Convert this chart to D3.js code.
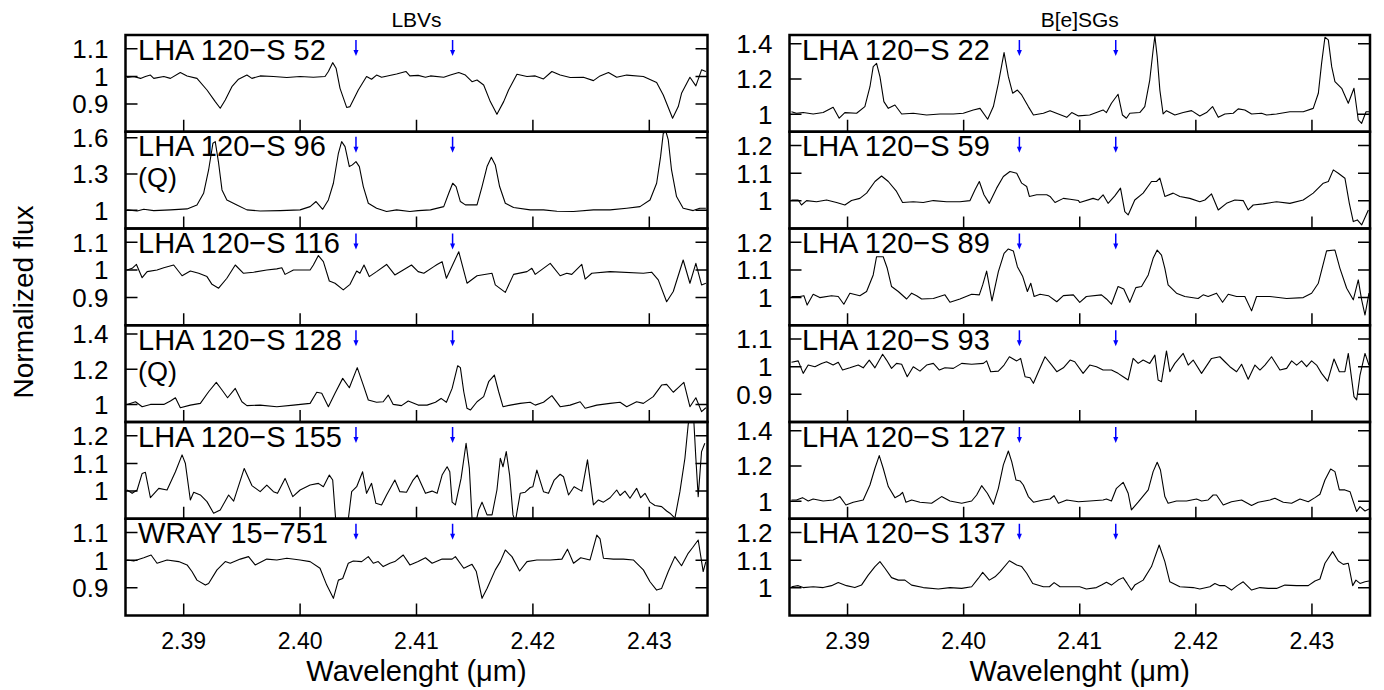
<!DOCTYPE html>
<html>
<head>
<meta charset="utf-8">
<script src="https://cdnjs.cloudflare.com/ajax/libs/d3/7.8.5/d3.min.js"></script>
<style>
body{margin:0;background:#fff}
text{font-family:"Liberation Sans",Arial,Helvetica,sans-serif;fill:#000}
</style>
</head>
<body>
<script>
// spectra, [wavelength (um), normalized flux]
var s52 = [[2.38514,0.996],[2.38571,1.0],[2.38629,0.993],[2.38671,1.0],[2.38714,1.005],[2.38743,0.993],[2.38829,1.0],[2.38886,0.993],[2.38971,1.014],[2.39029,1.002],[2.39114,0.993],[2.392,0.951],[2.39271,0.909],[2.39314,0.885],[2.39357,0.915],[2.39414,0.963],[2.39471,0.99],[2.39543,1.005],[2.39586,0.993],[2.39657,1.002],[2.39771,1.0],[2.39886,0.996],[2.4,1.0],[2.40114,0.997],[2.40214,1.0],[2.40243,1.018],[2.4028,1.05],[2.40309,1.03],[2.40343,0.957],[2.404,0.888],[2.40429,0.891],[2.405,0.951],[2.40571,1.0],[2.40614,0.99],[2.40657,1.005],[2.407,0.997],[2.40829,1.009],[2.40909,1.018],[2.40943,1.002],[2.41014,1.004],[2.41077,0.997],[2.4112,1.002],[2.41234,0.997],[2.41291,1.005],[2.41363,1.014],[2.4142,1.005],[2.41477,0.981],[2.4152,0.987],[2.41577,0.969],[2.41634,0.909],[2.41691,0.863],[2.41749,0.909],[2.41791,0.951],[2.41863,1.008],[2.41949,1.0],[2.4202,1.002],[2.42091,0.991],[2.42163,1.018],[2.42234,1.005],[2.4232,0.996],[2.42434,0.997],[2.4252,0.985],[2.42577,1.002],[2.42649,1.014],[2.4272,0.997],[2.42806,1.005],[2.42949,1.0],[2.43063,0.978],[2.4312,0.933],[2.432,0.849],[2.43249,0.891],[2.43277,0.939],[2.43349,0.997],[2.434,0.966],[2.43449,1.024],[2.43486,1.018]]

var s96 = [[2.38514,1.004],[2.386,0.995],[2.38657,1.009],[2.38743,0.998],[2.38886,1.004],[2.39029,1.012],[2.39114,1.045],[2.39171,1.141],[2.39214,1.334],[2.39251,1.555],[2.39271,1.568],[2.393,1.39],[2.39329,1.169],[2.39371,1.086],[2.39457,1.045],[2.39543,1.004],[2.39657,0.995],[2.39829,0.998],[2.4,1.004],[2.40086,1.031],[2.40137,1.073],[2.40194,1.009],[2.40243,1.086],[2.40286,1.224],[2.40329,1.472],[2.40357,1.568],[2.40386,1.527],[2.40423,1.362],[2.40449,1.376],[2.4048,1.403],[2.40509,1.362],[2.40543,1.197],[2.40586,1.059],[2.40657,1.018],[2.40743,0.99],[2.40829,1.004],[2.40943,0.99],[2.41014,0.998],[2.4112,1.004],[2.41234,1.031],[2.41277,1.141],[2.41311,1.224],[2.4134,1.197],[2.41377,1.073],[2.4142,1.045],[2.4152,1.045],[2.41563,1.197],[2.41606,1.362],[2.41643,1.439],[2.41677,1.376],[2.41714,1.197],[2.41763,1.059],[2.41834,1.023],[2.41977,1.004],[2.42091,1.004],[2.42206,0.993],[2.42349,0.99],[2.4252,1.004],[2.42663,1.004],[2.42806,1.018],[2.4292,1.031],[2.43006,1.086],[2.43063,1.224],[2.43097,1.444],[2.4312,1.637],[2.43143,1.65],[2.43163,1.582],[2.43191,1.334],[2.43234,1.114],[2.43291,1.018],[2.43377,0.998],[2.43434,1.018],[2.43486,1.018]]

var s116 = [[2.38514,1.0],[2.38557,1.006],[2.38594,1.02],[2.38643,0.972],[2.38686,0.994],[2.38771,1.0],[2.38829,1.008],[2.38914,1.018],[2.38986,0.979],[2.39057,0.996],[2.39129,0.988],[2.392,0.976],[2.39243,0.948],[2.393,0.934],[2.39371,0.97],[2.39443,1.018],[2.39514,0.988],[2.396,0.992],[2.39714,1.0],[2.398,1.004],[2.39843,1.008],[2.39871,0.984],[2.39943,1.0],[2.40086,1.0],[2.40114,1.018],[2.40157,1.052],[2.402,1.03],[2.40251,0.96],[2.403,0.952],[2.40371,0.928],[2.40429,0.948],[2.40486,0.996],[2.40514,0.988],[2.40549,1.018],[2.40594,0.976],[2.40657,0.994],[2.40743,1.02],[2.40814,0.982],[2.40886,1.0],[2.40957,1.018],[2.41014,0.994],[2.41063,0.988],[2.41149,1.012],[2.41177,1.02],[2.4122,1.03],[2.41257,0.97],[2.41363,1.066],[2.41434,0.952],[2.4152,0.979],[2.41649,0.988],[2.41677,0.946],[2.41763,0.919],[2.41834,0.984],[2.41949,0.994],[2.41991,1.006],[2.4202,0.984],[2.42149,1.024],[2.42234,0.979],[2.42291,0.988],[2.42334,0.984],[2.4242,1.02],[2.42449,0.967],[2.42506,0.988],[2.42663,0.994],[2.42949,0.988],[2.4302,0.992],[2.43077,0.964],[2.43149,0.885],[2.43206,0.922],[2.43291,1.036],[2.43349,0.952],[2.434,1.024],[2.43449,0.946],[2.43486,0.952]]

var s128 = [[2.38514,1.0],[2.38586,1.015],[2.38643,0.987],[2.38714,1.0],[2.38829,1.0],[2.38886,1.019],[2.38929,1.038],[2.38971,0.981],[2.39057,0.996],[2.39143,1.006],[2.39214,1.072],[2.3928,1.125],[2.39329,1.082],[2.39377,1.038],[2.39443,1.091],[2.395,1.015],[2.39543,0.993],[2.39657,0.996],[2.398,0.987],[2.39943,0.996],[2.40086,1.006],[2.40143,1.069],[2.40186,1.063],[2.40243,0.987],[2.403,1.063],[2.40366,1.148],[2.40423,1.095],[2.40491,1.209],[2.40543,1.11],[2.40586,1.025],[2.40657,1.012],[2.40714,1.015],[2.40757,1.053],[2.408,1.0],[2.40871,0.993],[2.40929,1.019],[2.41014,0.996],[2.41091,0.996],[2.41163,1.012],[2.41211,1.034],[2.41257,1.012],[2.41306,1.091],[2.41354,1.22],[2.41377,1.209],[2.41406,1.072],[2.41434,0.978],[2.41463,0.968],[2.4152,1.015],[2.41577,1.044],[2.4162,1.129],[2.41669,1.167],[2.41706,1.072],[2.41743,0.987],[2.41806,0.996],[2.41891,1.006],[2.41977,1.012],[2.4202,0.996],[2.42091,1.012],[2.42163,1.05],[2.42234,0.987],[2.4232,0.996],[2.42406,1.015],[2.42449,0.978],[2.42549,0.996],[2.42663,1.006],[2.42749,1.012],[2.42806,0.987],[2.42891,1.015],[2.42949,1.006],[2.43034,1.044],[2.43106,1.11],[2.43149,1.114],[2.43206,1.069],[2.43249,1.095],[2.43297,1.125],[2.43349,0.987],[2.434,1.038],[2.43449,0.959],[2.43486,0.981]]

var s155 = [[2.38514,1.004],[2.38557,0.992],[2.386,1.004],[2.38643,1.064],[2.38671,1.068],[2.38714,0.976],[2.38786,1.01],[2.38857,1.004],[2.38929,1.07],[2.38986,1.131],[2.39014,1.101],[2.39057,0.968],[2.39086,0.996],[2.39143,0.986],[2.392,0.962],[2.39257,0.92],[2.39314,0.932],[2.39386,0.986],[2.39429,0.964],[2.3952,1.082],[2.39586,1.02],[2.39657,0.998],[2.39714,1.022],[2.39771,0.998],[2.39806,0.992],[2.39871,1.046],[2.39937,0.98],[2.4,1.004],[2.40086,1.022],[2.40157,1.028],[2.402,1.016],[2.40251,1.058],[2.4028,1.04],[2.40314,0.85],[2.404,0.85],[2.40443,0.998],[2.40486,1.016],[2.40537,1.07],[2.40571,0.992],[2.40614,1.028],[2.40651,0.956],[2.407,0.95],[2.40743,0.986],[2.40814,1.04],[2.40857,0.998],[2.40914,0.996],[2.40971,1.04],[2.41006,1.058],[2.41077,0.992],[2.41134,1.0],[2.41177,0.992],[2.4122,1.058],[2.41263,1.088],[2.41286,1.07],[2.41306,0.96],[2.41334,0.95],[2.41383,1.046],[2.41426,1.173],[2.41454,1.082],[2.41477,0.902],[2.41506,0.88],[2.41534,0.932],[2.41563,0.96],[2.41606,0.914],[2.41649,0.914],[2.41691,1.004],[2.4172,1.119],[2.41743,1.088],[2.41771,1.143],[2.418,1.058],[2.41829,0.914],[2.41849,0.89],[2.41891,0.992],[2.41934,0.996],[2.41977,1.013],[2.42,1.016],[2.42034,1.076],[2.42091,0.998],[2.42134,0.992],[2.42183,1.04],[2.42234,1.061],[2.42263,1.052],[2.42306,0.986],[2.42354,1.016],[2.4242,1.0],[2.42469,1.113],[2.4252,0.95],[2.42563,0.968],[2.42606,0.96],[2.42663,0.976],[2.4272,1.004],[2.42749,0.984],[2.42791,1.0],[2.42834,0.974],[2.42891,1.01],[2.42926,0.976],[2.42963,0.992],[2.43006,0.96],[2.43049,0.948],[2.43106,0.944],[2.43149,0.928],[2.43177,0.92],[2.4322,0.902],[2.43263,0.998],[2.43306,1.119],[2.43334,1.24],[2.43349,1.28],[2.43383,1.25],[2.434,1.119],[2.4342,0.98],[2.43449,1.143],[2.43477,1.173]]

var w751 = [[2.38514,1.001],[2.38571,0.997],[2.38657,1.009],[2.3872,1.019],[2.38771,0.989],[2.38857,1.001],[2.38957,0.995],[2.39029,0.983],[2.39071,0.959],[2.39114,0.928],[2.39186,0.91],[2.39214,0.916],[2.39286,0.965],[2.39357,0.995],[2.394,0.989],[2.39486,1.004],[2.39557,1.013],[2.39614,0.983],[2.39714,1.004],[2.398,1.001],[2.39886,1.007],[2.4,1.001],[2.40086,0.995],[2.40171,0.971],[2.40229,0.91],[2.40286,0.862],[2.40329,0.928],[2.40366,0.934],[2.40414,0.989],[2.40457,0.997],[2.40529,0.995],[2.40586,1.013],[2.40629,0.989],[2.40671,0.995],[2.40714,0.977],[2.40771,0.989],[2.40814,0.995],[2.40886,1.019],[2.40943,0.983],[2.41014,0.995],[2.41077,1.009],[2.41134,0.989],[2.4122,1.004],[2.41306,1.004],[2.41334,1.013],[2.41406,0.971],[2.41477,0.985],[2.41514,0.959],[2.41563,0.862],[2.41606,0.898],[2.41677,0.965],[2.4172,0.995],[2.41763,1.037],[2.4182,1.013],[2.41886,0.961],[2.41949,0.995],[2.42034,1.001],[2.42149,1.001],[2.42249,1.004],[2.42297,1.04],[2.42349,0.989],[2.42411,1.009],[2.42491,1.001],[2.42549,1.091],[2.42577,1.077],[2.42606,1.007],[2.42691,1.004],[2.42777,1.004],[2.42863,1.001],[2.42949,0.965],[2.43006,0.922],[2.43063,0.892],[2.43106,0.898],[2.43163,0.959],[2.4322,1.013],[2.43277,0.98],[2.43334,1.025],[2.43371,1.045],[2.4342,1.073],[2.43463,0.959],[2.43486,0.995]]

var s22 = [[2.38517,1.014],[2.3856,1.005],[2.38618,1.009],[2.38704,1.001],[2.3879,1.009],[2.38876,1.039],[2.38928,0.977],[2.38977,1.009],[2.39078,1.005],[2.39149,1.043],[2.39193,1.156],[2.39221,1.27],[2.3925,1.289],[2.39279,1.213],[2.39313,1.071],[2.39351,1.033],[2.39408,1.052],[2.39466,1.001],[2.39566,1.005],[2.39681,0.995],[2.39796,1.001],[2.39911,1.001],[2.39997,1.005],[2.40083,1.024],[2.40141,1.033],[2.40207,0.971],[2.40256,1.043],[2.40299,1.175],[2.40348,1.35],[2.40385,1.213],[2.40422,1.119],[2.40463,1.137],[2.405,1.109],[2.40557,1.043],[2.40601,0.995],[2.40687,1.005],[2.40744,1.02],[2.40816,1.001],[2.40888,0.982],[2.40931,1.009],[2.40989,0.99],[2.41086,0.995],[2.41201,1.024],[2.4123,1.009],[2.41273,1.062],[2.4133,1.113],[2.41368,0.995],[2.41402,0.977],[2.41431,1.005],[2.41517,1.009],[2.4156,1.043],[2.41603,1.194],[2.41632,1.365],[2.41647,1.444],[2.41667,1.327],[2.4169,1.137],[2.41718,1.001],[2.41747,1.02],[2.41819,0.995],[2.41891,1.009],[2.41963,1.02],[2.42034,0.99],[2.42092,1.009],[2.42144,1.043],[2.42193,0.982],[2.4225,1.001],[2.42322,1.005],[2.42365,1.03],[2.42422,1.024],[2.4248,1.001],[2.42566,1.005],[2.42609,0.995],[2.42695,1.001],[2.4281,1.014],[2.42925,1.014],[2.43011,1.033],[2.43055,1.119],[2.43083,1.289],[2.43112,1.437],[2.43141,1.422],[2.4317,1.27],[2.43198,1.185],[2.43256,1.147],[2.43313,1.062],[2.43362,1.147],[2.43399,0.967],[2.43428,0.948],[2.43466,1.014],[2.43491,1.014]]

var s59 = [[2.38517,1.003],[2.38575,1.003],[2.38603,0.985],[2.38647,1.001],[2.38733,0.997],[2.38819,1.003],[2.38905,0.994],[2.38977,0.985],[2.39034,1.001],[2.39106,1.009],[2.39164,1.028],[2.39236,1.07],[2.39293,1.09],[2.39351,1.07],[2.39422,1.034],[2.39474,0.994],[2.39566,0.997],[2.39652,0.994],[2.39739,1.001],[2.39853,0.997],[2.39968,0.997],[2.40055,1.001],[2.40098,1.04],[2.40135,1.07],[2.40175,1.022],[2.40221,0.991],[2.40284,1.046],[2.40342,1.088],[2.40399,1.106],[2.40457,1.1],[2.405,1.064],[2.40543,1.052],[2.40566,1.016],[2.40629,1.022],[2.40716,1.022],[2.40744,1.016],[2.40787,0.994],[2.40859,1.009],[2.40917,1.006],[2.40989,1.001],[2.41,0.994],[2.41115,1.009],[2.41158,1.003],[2.41201,1.022],[2.41244,0.991],[2.41302,1.018],[2.41351,1.046],[2.41388,0.961],[2.41417,0.949],[2.41474,1.003],[2.41546,1.028],[2.41618,1.07],[2.41661,1.07],[2.4169,1.082],[2.41733,1.016],[2.41805,1.028],[2.41862,1.016],[2.41948,1.009],[2.42034,0.997],[2.42078,1.003],[2.42135,1.025],[2.42193,0.967],[2.42264,0.991],[2.42336,1.003],[2.42408,1.001],[2.42451,0.967],[2.42494,0.985],[2.4258,0.989],[2.42695,0.997],[2.4281,0.991],[2.42925,1.003],[2.43011,1.028],[2.43098,1.064],[2.43141,1.07],[2.43184,1.112],[2.43227,1.1],[2.43284,1.082],[2.43322,0.991],[2.43356,0.925],[2.43391,0.931],[2.43428,0.913],[2.43486,0.967]]

var s89 = [[2.38517,1.004],[2.38589,1.004],[2.38624,1.007],[2.38652,0.973],[2.38704,1.012],[2.38761,1.0],[2.38862,1.007],[2.3892,1.004],[2.38968,0.976],[2.3902,1.016],[2.39106,1.007],[2.39164,1.022],[2.39221,1.082],[2.3925,1.148],[2.39307,1.148],[2.39342,1.106],[2.39379,1.04],[2.39437,1.022],[2.39509,0.995],[2.39552,1.016],[2.39595,1.007],[2.39638,0.995],[2.39739,0.997],[2.39839,1.01],[2.39882,0.983],[2.39968,0.995],[2.40069,1.012],[2.40135,1.01],[2.40164,1.046],[2.40198,1.096],[2.40244,0.988],[2.40299,1.094],[2.40348,1.16],[2.40385,1.176],[2.40428,1.169],[2.40463,1.112],[2.40509,1.076],[2.40549,1.022],[2.40578,1.052],[2.40607,1.004],[2.40658,1.012],[2.4073,1.007],[2.40802,0.985],[2.40859,1.007],[2.40945,1.01],[2.41,0.983],[2.41057,1.004],[2.41187,1.01],[2.4123,0.995],[2.41273,0.976],[2.4133,1.04],[2.41379,1.031],[2.41431,0.983],[2.41483,1.036],[2.41532,1.04],[2.4159,1.082],[2.41632,1.142],[2.41667,1.172],[2.41704,1.154],[2.41733,1.106],[2.41761,1.046],[2.41833,1.016],[2.41905,1.004],[2.4202,0.997],[2.42063,1.01],[2.42106,1.004],[2.42178,1.016],[2.4223,0.983],[2.42279,1.012],[2.42351,1.004],[2.42422,1.004],[2.4248,0.952],[2.42523,1.004],[2.42638,1.004],[2.42782,0.997],[2.42925,1.0],[2.42997,1.016],[2.43055,1.052],[2.43126,1.169],[2.43198,1.172],[2.43241,1.106],[2.43299,1.034],[2.43356,0.992],[2.43399,1.064],[2.43428,0.992],[2.43457,0.937],[2.43491,1.016]]

var s93 = [[2.38517,1.016],[2.38575,1.021],[2.38618,0.976],[2.38661,1.006],[2.38719,1.0],[2.38776,1.012],[2.38819,1.018],[2.38876,1.006],[2.3892,1.016],[2.38957,0.988],[2.3902,0.996],[2.39092,1.006],[2.39135,0.996],[2.39187,1.024],[2.39236,0.996],[2.39302,1.045],[2.39336,1.024],[2.39379,0.994],[2.39422,1.012],[2.39466,1.009],[2.39514,0.964],[2.39566,1.0],[2.39624,0.984],[2.39681,1.006],[2.39739,1.012],[2.39791,0.988],[2.39839,0.996],[2.39911,0.994],[2.39983,1.012],[2.40069,1.009],[2.4017,1.012],[2.40198,1.021],[2.40233,0.982],[2.40299,0.984],[2.40348,1.006],[2.40394,1.036],[2.40457,1.021],[2.40491,1.03],[2.40529,0.964],[2.40572,0.96],[2.40601,0.94],[2.40644,0.982],[2.40701,1.036],[2.40759,1.006],[2.40802,0.982],[2.40859,0.996],[2.40917,1.024],[2.40957,1.018],[2.41029,0.976],[2.41086,1.006],[2.41144,1.0],[2.41201,0.988],[2.41273,0.988],[2.4133,0.976],[2.41374,0.964],[2.41417,0.952],[2.4146,1.03],[2.41503,1.012],[2.41546,1.024],[2.41603,1.012],[2.41647,1.042],[2.41675,0.952],[2.41704,0.946],[2.41747,1.057],[2.41776,0.982],[2.41819,1.012],[2.41891,1.048],[2.41934,1.006],[2.41977,1.024],[2.42049,0.976],[2.42135,1.03],[2.42207,1.036],[2.4225,1.018],[2.42293,1.0],[2.42351,0.982],[2.42394,1.009],[2.42451,0.955],[2.42509,1.006],[2.42552,0.988],[2.42595,1.006],[2.42652,1.036],[2.42724,0.988],[2.42782,0.994],[2.42825,1.021],[2.42868,1.006],[2.42911,1.021],[2.42954,1.0],[2.42997,1.021],[2.4304,1.006],[2.43083,0.976],[2.43135,0.948],[2.4319,1.028],[2.43236,0.982],[2.43284,0.982],[2.43313,1.048],[2.43362,0.892],[2.43385,0.88],[2.43414,0.97],[2.43457,1.048],[2.43491,1.006]]

var s127 = [[2.38517,1.007],[2.3856,1.007],[2.38612,1.02],[2.38661,1.001],[2.38704,1.012],[2.3879,1.001],[2.38876,1.007],[2.38934,1.026],[2.38986,0.978],[2.39049,0.994],[2.39135,1.007],[2.39193,1.092],[2.39236,1.187],[2.39273,1.259],[2.39307,1.187],[2.39351,1.083],[2.39408,1.02],[2.39451,1.035],[2.39474,1.05],[2.39503,0.994],[2.39552,1.007],[2.39624,0.994],[2.39724,0.988],[2.3981,1.026],[2.39882,1.001],[2.39983,0.988],[2.40069,1.001],[2.40112,1.035],[2.40155,1.088],[2.40204,1.045],[2.40256,0.982],[2.40299,1.073],[2.40342,1.206],[2.40385,1.285],[2.40414,1.225],[2.40451,1.12],[2.40486,1.115],[2.40514,1.092],[2.40557,1.026],[2.40601,0.994],[2.40687,1.007],[2.40744,1.012],[2.40779,1.031],[2.40816,0.988],[2.40888,1.007],[2.40989,0.997],[2.41086,1.001],[2.41201,1.007],[2.4123,1.012],[2.41273,1.001],[2.41316,1.073],[2.41374,1.107],[2.41417,1.045],[2.41445,0.95],[2.41503,0.994],[2.4159,1.064],[2.41632,1.168],[2.41667,1.221],[2.41695,1.177],[2.41733,1.026],[2.41761,0.988],[2.41833,1.001],[2.4192,1.001],[2.42006,1.012],[2.42049,1.001],[2.42106,1.007],[2.42149,1.035],[2.42178,1.035],[2.42236,0.978],[2.42307,0.997],[2.42394,1.007],[2.4248,0.975],[2.42537,0.994],[2.42638,1.007],[2.42681,1.016],[2.42753,0.994],[2.42825,0.988],[2.42897,1.012],[2.42968,0.997],[2.43026,1.02],[2.43069,1.039],[2.43112,1.12],[2.43161,1.183],[2.43198,1.168],[2.43236,1.064],[2.43284,1.064],[2.43328,1.054],[2.43351,1.007],[2.43385,0.941],[2.43414,0.969],[2.43457,0.944],[2.43491,0.956]]

var s137 = [[2.38517,1.004],[2.38575,1.008],[2.38618,1.001],[2.38704,1.004],[2.3879,1.001],[2.38862,1.008],[2.3892,1.019],[2.38991,1.008],[2.39063,1.001],[2.3912,1.01],[2.39178,1.046],[2.39236,1.077],[2.39279,1.095],[2.39322,1.071],[2.39379,1.037],[2.39437,1.028],[2.39494,1.028],[2.39552,1.01],[2.39652,1.001],[2.39782,0.996],[2.39882,1.001],[2.39983,0.998],[2.40069,1.004],[2.40126,1.034],[2.40164,1.056],[2.40221,1.028],[2.4027,1.04],[2.40313,1.058],[2.40394,1.098],[2.40457,1.083],[2.405,1.077],[2.40543,1.053],[2.40595,1.016],[2.40687,1.004],[2.40739,1.004],[2.40779,1.019],[2.4083,1.004],[2.40917,1.004],[2.41,1.004],[2.41057,0.996],[2.41144,1.001],[2.41187,1.01],[2.4123,1.02],[2.41273,1.01],[2.4133,1.028],[2.41374,1.037],[2.41408,1.016],[2.41445,0.992],[2.41474,1.01],[2.41546,1.028],[2.41618,1.077],[2.41684,1.155],[2.41733,1.095],[2.41776,1.022],[2.41862,1.004],[2.41977,1.001],[2.42034,0.996],[2.42121,1.004],[2.42164,1.016],[2.42207,1.008],[2.4225,1.008],[2.42307,0.992],[2.42356,1.008],[2.42408,1.022],[2.4248,0.992],[2.42552,1.001],[2.42624,0.998],[2.42695,0.998],[2.42767,1.01],[2.42868,1.008],[2.42968,1.008],[2.43026,1.025],[2.43069,1.032],[2.43112,1.089],[2.43178,1.131],[2.43227,1.097],[2.4327,1.085],[2.43313,1.089],[2.43351,1.008],[2.43379,1.028],[2.43414,1.016],[2.43457,1.022],[2.43491,1.025]]

var lbvSpectra = [s52, s96, s116, s128, s155, w751]
var lbvNames = ['LHA 120−S 52', 'LHA 120−S 96', 'LHA 120−S 116', 'LHA 120−S 128', 'LHA 120−S 155', 'WRAY 15−751']
var lbvNotes = ['', '(Q)', '', '(Q)', '', '']
var lbvRanges = [[0.8, 1.15], [0.85, 1.65], [0.8, 1.15], [0.9, 1.45], [0.9, 1.25], [0.8, 1.15]]
var lbvTicks = [[0.9, 1, 1.1], [1, 1.3, 1.6], [0.9, 1, 1.1], [1, 1.2, 1.4], [1, 1.1, 1.2], [0.9, 1, 1.1]]

var bsgSpectra = [s22, s59, s89, s93, s127, s137]
var bsgNames = ['LHA 120−S 22', 'LHA 120−S 59', 'LHA 120−S 89', 'LHA 120−S 93', 'LHA 120−S 127', 'LHA 120−S 137']
var bsgNotes = ['', '', '', '', '', '']
var bsgRanges = [[0.9, 1.45], [0.9, 1.25], [0.9, 1.25], [0.8, 1.15], [0.9, 1.45], [0.9, 1.25]]
var bsgTicks = [[1, 1.2, 1.4], [1, 1.1, 1.2], [1, 1.1, 1.2], [0.9, 1, 1.1], [1, 1.2, 1.4], [1, 1.1, 1.2]]

var xRange = [2.385, 2.435]
var xTicks = [2.39, 2.40, 2.41, 2.42, 2.43]
var arrowLines = [2.4048, 2.4131]


var svg = d3.select('body').append('svg')
  .attr('width', 1384).attr('height', 690)

var top0 = 35, panelH = 96.75, tickLen = 12

var cols = [
  {x0: 125.5, x1: 707.5, title: 'LBVs', spectra: lbvSpectra, names: lbvNames, notes: lbvNotes, ranges: lbvRanges, ticks: lbvTicks},
  {x0: 789.5, x1: 1370, title: 'B[e]SGs', spectra: bsgSpectra, names: bsgNames, notes: bsgNotes, ranges: bsgRanges, ticks: bsgTicks}
]

cols.forEach(function(col, ci){
  var x = d3.scaleLinear().domain(xRange).range([col.x0, col.x1])
  var g = svg.append('g')

  col.spectra.forEach(function(spec, i){
    var y0 = top0 + i*panelH, y1 = y0 + panelH
    var y = d3.scaleLinear().domain(col.ranges[i]).range([y1, y0])
    var clipId = 'clip' + ci + '-' + i

    g.append('clipPath').attr('id', clipId)
      .append('rect').attr('x', col.x0).attr('y', y0).attr('width', col.x1 - col.x0).attr('height', panelH)

    // y ticks, both sides, pointing inward
    col.ticks[i].forEach(function(t){
      var ty = y(t)
      g.append('path')
        .attr('d', 'M' + col.x0 + ',' + ty + 'h' + tickLen + 'M' + col.x1 + ',' + ty + 'h' + (-tickLen))
        .attr('stroke', '#000').attr('stroke-width', 1.5)
      g.append('text').text(String(t))
        .attr('x', col.x0 - 17).attr('y', ty).attr('dy', '0.36em')
        .attr('text-anchor', 'end').style('font-size', '26px')
    })

    // x ticks on the bottom edge
    xTicks.forEach(function(t){
      g.append('path')
        .attr('d', 'M' + x(t) + ',' + y1 + 'v' + (-tickLen))
        .attr('stroke', '#000').attr('stroke-width', 1.5)
    })

    g.append('path').datum(spec)
      .attr('clip-path', 'url(#' + clipId + ')')
      .attr('d', d3.line().x(function(d){ return x(d[0]) }).y(function(d){ return y(d[1]) }))
      .attr('fill', 'none').attr('stroke', '#000').attr('stroke-width', 1.1)
      .attr('stroke-linejoin', 'round')

    // blue markers
    arrowLines.forEach(function(w){
      var ax = x(w)
      g.append('path').attr('d', 'M' + ax + ',' + (y0 + 5) + 'V' + (y0 + 16))
        .attr('stroke', '#0000ff').attr('stroke-width', 1.5)
      g.append('path').attr('d', 'M' + (ax - 2.5) + ',' + (y0 + 15) + 'L' + (ax + 2.5) + ',' + (y0 + 15) + 'L' + ax + ',' + (y0 + 21) + 'Z')
        .attr('fill', '#0000ff')
    })

    // star name, then the (Q) note on its own line below
    g.append('text').text(col.names[i])
      .attr('x', col.x0 + 12.5).attr('y', y0 + 24.5)
      .style('font-size', '29px')
    if (col.notes[i]) g.append('text').text(col.notes[i])
      .attr('x', col.x0 + 12.5).attr('y', y0 + 55.5)
      .style('font-size', '27px')

    g.append('rect')
      .attr('x', col.x0).attr('y', y0).attr('width', col.x1 - col.x0).attr('height', panelH)
      .attr('fill', 'none').attr('stroke', '#000').attr('stroke-width', 2.5)
  })

  var yb = top0 + 6*panelH
  xTicks.forEach(function(t){
    g.append('text').text(d3.format('.2f')(t))
      .attr('x', x(t)).attr('y', yb + 33)
      .attr('text-anchor', 'middle').style('font-size', '23px')
  })

  g.append('text').text('Wavelenght (μm)')
    .attr('x', (col.x0 + col.x1)/2).attr('y', yb + 65)
    .attr('text-anchor', 'middle').style('font-size', '29px')

  g.append('text').text(col.title)
    .attr('x', (col.x0 + col.x1)/2).attr('y', 27)
    .attr('text-anchor', 'middle').style('font-size', '21px')
})

svg.append('text').text('Normalized flux')
  .attr('transform', 'translate(33,302) rotate(-90)')
  .attr('text-anchor', 'middle').style('font-size', '28px')
</script>
</body>
</html>
